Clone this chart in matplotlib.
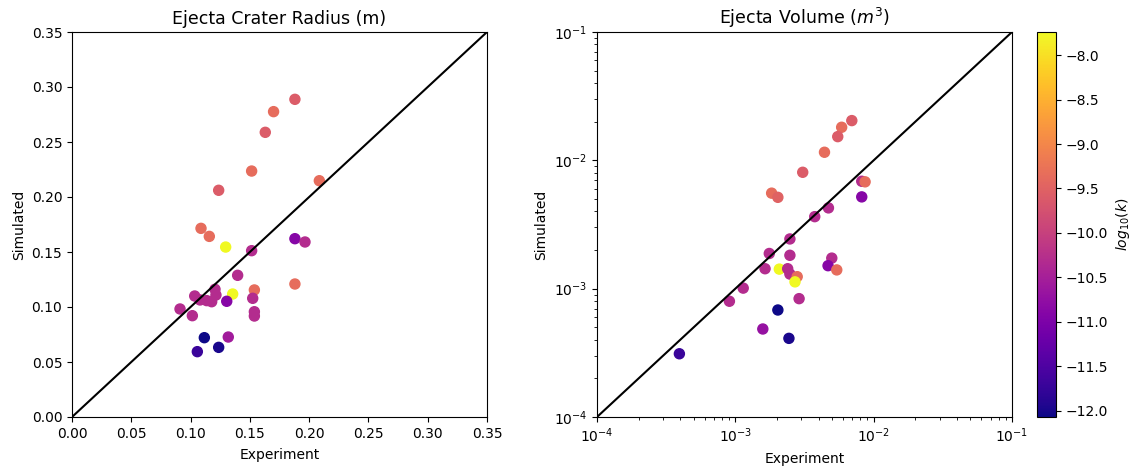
import matplotlib
matplotlib.use("Agg")
import matplotlib.pyplot as plt
import numpy as np

# Crater radius (m): experiment vs. simulation, coloured by log10 permeability
radius_exp = [0.188, 0.170, 0.163, 0.1515, 0.2086, 0.1237, 0.1088, 0.1158,
              0.1296, 0.1515, 0.188, 0.1965, 0.1397, 0.188, 0.1538, 0.1355,
              0.1206, 0.1214, 0.1035, 0.108, 0.1136, 0.1178, 0.1305, 0.1524,
              0.0911, 0.1015, 0.1538, 0.1538, 0.1116, 0.1318, 0.1237, 0.1057]
radius_sim = [0.2888, 0.2776, 0.2588, 0.2236, 0.2148, 0.2061, 0.1715, 0.1642,
              0.1545, 0.1512, 0.1621, 0.1591, 0.1288, 0.1209, 0.1155, 0.1118,
              0.1161, 0.1109, 0.1100, 0.1064, 0.1058, 0.1048, 0.1052, 0.1079,
              0.0982, 0.0921, 0.0957, 0.0918, 0.0721, 0.0727, 0.0633, 0.0594]
radius_logk = [-9.6, -9.35, -9.6, -9.35, -9.35, -9.6, -9.35, -9.35,
               -7.74, -10.3, -10.9, -10.3, -10.3, -9.35, -9.35, -7.74,
               -10.3, -10.3, -10.3, -10.3, -10.3, -10.3, -10.9, -10.3,
               -10.3, -10.3, -10.3, -10.3, -12.07, -10.55, -12.0, -11.7]

# Ejecta volume (m^3)
volume_exp = [0.00695, 0.00587, 0.0055, 0.00441, 0.00307, 0.0082, 0.00867,
              0.0082, 0.00183, 0.00203, 0.00471, 0.00375, 0.00248, 0.00176,
              0.00248, 0.00498, 0.00468, 0.00541, 0.00164, 0.00208, 0.00239,
              0.00248, 0.0028, 0.0027, 0.00114, 0.000906, 0.00289, 0.00203,
              0.00158, 0.00244, 0.000394]
volume_sim = [0.0204, 0.0181, 0.0153, 0.01156, 0.00807, 0.00687, 0.0068,
              0.00519, 0.00555, 0.00515, 0.00426, 0.00364, 0.00244, 0.00188,
              0.00182, 0.00173, 0.00151, 0.0014, 0.00143, 0.00142, 0.00143,
              0.0013, 0.00124, 0.00113, 0.00101, 0.000798, 0.000836, 0.000682,
              0.000485, 0.00041, 0.000311]
volume_logk = [-9.6, -9.35, -9.6, -9.35, -9.6, -10.3, -9.35,
               -10.9, -9.35, -9.5, -10.3, -10.3, -10.3, -10.3,
               -10.3, -10.3, -10.9, -9.35, -10.3, -7.74, -10.3,
               -10.3, -9.35, -7.74, -10.3, -10.3, -10.3, -12.07,
               -10.7, -12.0, -11.7]

vmin = min(min(radius_logk), min(volume_logk))
vmax = max(max(radius_logk), max(volume_logk))

fig = plt.figure(figsize=(11.33, 4.68), dpi=100)
W, H = 1133.0, 468.0
ax1 = fig.add_axes([72 / W, 51 / H, 415 / W, 385 / H])
ax2 = fig.add_axes([597 / W, 51 / H, 415 / W, 385 / H])
cax = fig.add_axes([1037 / W, 51 / H, 19 / W, 385 / H])

# Left panel: radius
ax1.scatter(radius_exp, radius_sim, c=radius_logk, cmap="plasma",
            vmin=vmin, vmax=vmax, s=52, zorder=2)
lim1 = [0.0, 0.35]
ax1.plot(lim1, lim1, color="black", lw=1.5, zorder=3)
ax1.set_xlim(lim1)
ax1.set_ylim(lim1)
ax1.set_xticks(np.arange(0, 0.351, 0.05))
ax1.set_yticks(np.arange(0, 0.351, 0.05))
ax1.set_title("Ejecta Crater Radius (m)", fontsize=12.5)
ax1.set_xlabel("Experiment", labelpad=5)
ax1.set_ylabel("Simulated")

# Right panel: volume, log-log
sc = ax2.scatter(volume_exp, volume_sim, c=volume_logk, cmap="plasma",
                 vmin=vmin, vmax=vmax, s=52, zorder=2)
lim2 = [1e-4, 1e-1]
ax2.plot(lim2, lim2, color="black", lw=1.5, zorder=3)
ax2.set_xscale("log")
ax2.set_yscale("log")
ax2.set_xlim(lim2)
ax2.set_ylim(lim2)
ax2.set_title("Ejecta Volume ($m^3$)", fontsize=12.5)
ax2.set_xlabel("Experiment", labelpad=5)
ax2.set_ylabel("Simulated")

cb = fig.colorbar(sc, cax=cax)
cb.set_ticks(np.arange(-12.0, -7.9, 0.5))
cb.set_label("$log_{10}(k)$")

fig.savefig("out.png", dpi=100)
